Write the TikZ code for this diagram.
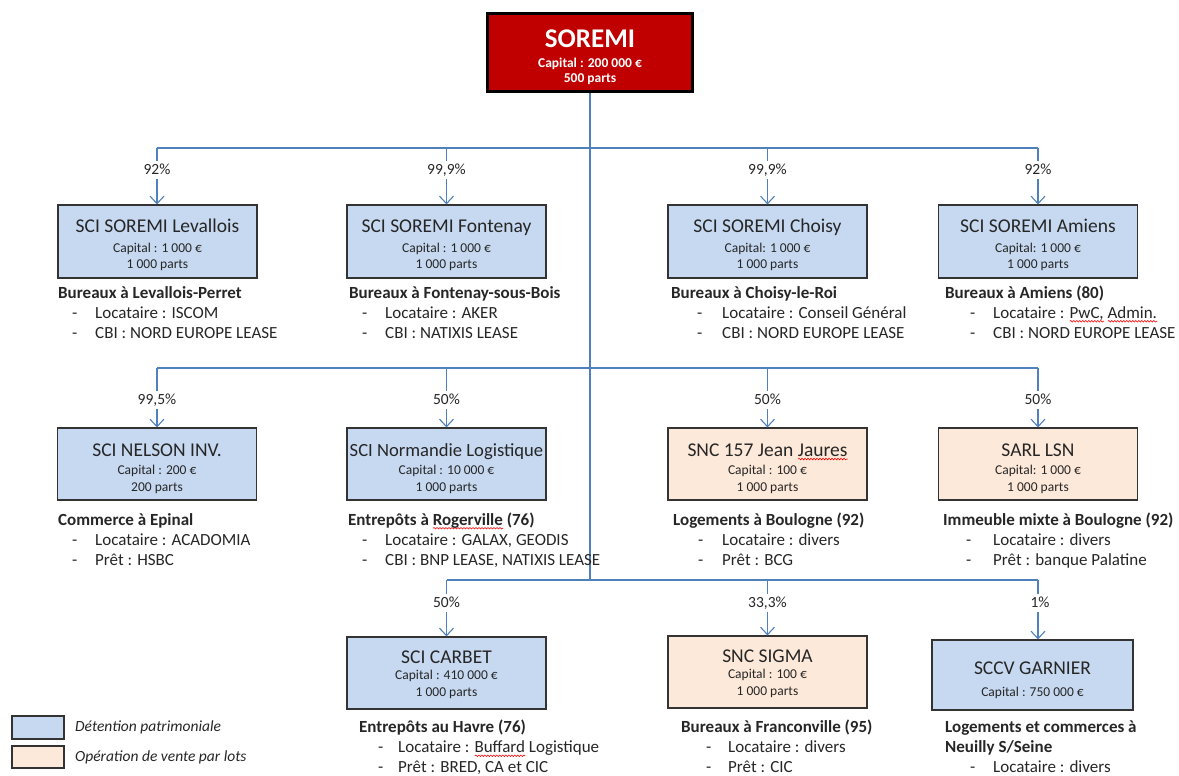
\documentclass[tikz,border=0pt]{standalone}
\usepackage{fontspec}
\setmainfont{Carlito}
\usetikzlibrary{arrows.meta,decorations.pathmorphing}
\definecolor{lnblue}{HTML}{4F81BD}
\definecolor{boxblue}{HTML}{C6D9F1}
\definecolor{boxpeach}{HTML}{FDE9D9}
\definecolor{soremired}{HTML}{C00000}
\definecolor{txt}{HTML}{262626}
\newsavebox\sqbox
\newcommand\sqw[1]{\sbox\sqbox{#1}\rlap{\raisebox{-4pt}{\tikz\draw[red,line width=0.6pt,decorate,decoration={snake,amplitude=0.8pt,segment length=3pt}] (0pt,0pt) -- (\wd\sqbox,0pt);}}\usebox\sqbox}
\newcommand\boxtxt[8]{%
  \node[ttl] (#1-t) at (#2,#3) {#6};
  \node[sml] (#1-c) at (#2,#4) {#7};
  \node[sml] (#1-p) at (#2,#5) {#8};}
\newcommand\infotxt[8]{%
  \node[dsc] (#1-h) at (#2,#5) {#6};
  \node[itm] (#1-d1) at (#3,#5+20) {-};
  \node[itm] (#1-i1) at (#4,#5+20) {#7};
  \node[itm] (#1-d2) at (#3,#5+40) {-};
  \node[itm] (#1-i2) at (#4,#5+40) {#8};}
\begin{document}
\begin{tikzpicture}[x=1pt,y=-1pt,
  ent/.style={draw=black!80,line width=1.1pt,minimum width=199pt,minimum height=73pt,inner sep=0pt},
  det/.style={ent,fill=boxblue},
  vte/.style={ent,fill=boxpeach},
  ttl/.style={font=\fontsize{19.5}{23}\selectfont,text=txt,text height=12.3pt,text depth=0pt,inner sep=0pt},
  sml/.style={font=\fontsize{13.5}{16}\selectfont,text=txt,text height=8.5pt,text depth=0pt,inner sep=0pt},
  dsc/.style={font=\bfseries\fontsize{17}{20}\selectfont,text=txt,text height=10.7pt,text depth=0pt,inner sep=0pt,anchor=west},
  itm/.style={font=\fontsize{17}{20}\selectfont,text=txt,text height=10.7pt,text depth=0pt,inner sep=0pt,anchor=west},
  pct/.style={font=\fontsize{15.5}{18}\selectfont,text=txt,fill=white,inner xsep=2pt,inner ysep=4pt,text height=9.8pt,text depth=0pt},
  leg/.style={font=\itshape\fontsize{15.5}{18}\selectfont,text=txt,text height=9.8pt,text depth=0pt,inner sep=0pt,anchor=west},
  conn/.style={draw=lnblue,line width=1.3pt},
  arr/.style={conn,-{Straight Barb[length=7.5pt,width=14pt,line width=1.1pt]}}
]
\useasboundingbox (0,0) rectangle (1179,776);

% parent
\node[draw=black,line width=3pt,fill=soremired,minimum width=205pt,minimum height=78pt,inner sep=0pt] (sor) at (590,53) {};
\node[font=\bfseries\fontsize{27}{30}\selectfont,text=white,text height=17pt,text depth=0pt,inner sep=0pt] (sor-t) at (590,39) {SOREMI};
\node[font=\bfseries\fontsize{13.5}{16}\selectfont,text=white,text height=8.5pt,text depth=0pt,inner sep=0pt] (sor-c) at (590,63) {Capital : 200 000 €};
\node[font=\bfseries\fontsize{13.5}{16}\selectfont,text=white,text height=8.5pt,text depth=0pt,inner sep=0pt] (sor-p) at (590,78) {500 parts};

% row 1 boxes
\node[det] (lev) at (157.5,241.5) {};
\node[det] (fon) at (446.5,241.5) {};
\node[det] (cho) at (767.5,241.5) {};
\node[det] (ami) at (1038,241.5) {};
% row 2 boxes
\node[det,minimum height=72pt] (nel) at (157,464) {};
\node[det,minimum height=72pt] (nor) at (446.5,464) {};
\node[vte,minimum height=72pt] (jj) at (767.5,464) {};
\node[vte,minimum height=72pt] (lsn) at (1038,464) {};
% row 3 boxes
\node[det,minimum height=72pt] (car) at (446.5,673) {};
\node[vte,minimum height=72pt] (sig) at (767.5,672) {};
\node[det,minimum width=201pt,minimum height=70pt] (gar) at (1032.5,675) {};

% connectors
\coordinate (b1L) at (157,148);
\coordinate (b1a) at (446.5,148);
\coordinate (b1b) at (767.5,148);
\coordinate (b1R) at (1038,148);
\coordinate (b2L) at (157,368);
\coordinate (b2a) at (446.5,368);
\coordinate (b2b) at (767.5,368);
\coordinate (b2R) at (1038,368);
\coordinate (b3L) at (446.5,580);
\coordinate (b3a) at (767.5,580);
\coordinate (b3R) at (1038,580);
\coordinate (tr) at (590,580);
\draw[conn] (sor.south) -- (tr);
\draw[conn] (b1L) -- (b1R);
\draw[conn] (b2L) -- (b2R);
\draw[conn] (b3L) -- (b3R);
\draw[arr] (b1L) -- (b1L |- lev.north);
\draw[arr] (b1a) -- (b1a |- fon.north);
\draw[arr] (b1b) -- (b1b |- cho.north);
\draw[arr] (b1R) -- (b1R |- ami.north);
\draw[arr] (b2L) -- (b2L |- nel.north);
\draw[arr] (b2a) -- (b2a |- nor.north);
\draw[arr] (b2b) -- (b2b |- jj.north);
\draw[arr] (b2R) -- (b2R |- lsn.north);
\draw[arr] (b3L) -- (b3L |- car.north);
\draw[arr] (b3a) -- (b3a |- sig.north);
\draw[arr] (b3R) -- (b3R |- gar.north);

% percentages
\node[pct] (p11) at (157,170) {92\%};
\node[pct] (p12) at (446.5,170) {99,9\%};
\node[pct] (p13) at (767.5,170) {99,9\%};
\node[pct] (p14) at (1038,170) {92\%};
\node[pct] (p21) at (157,400) {99,5\%};
\node[pct] (p22) at (446.5,400) {50\%};
\node[pct] (p23) at (767.5,400) {50\%};
\node[pct] (p24) at (1038,400) {50\%};
\node[pct] (p31) at (446.5,603) {50\%};
\node[pct] (p32) at (767.5,603) {33,3\%};
\node[pct] (p33) at (1040,603) {1\%};

% box texts
\boxtxt{lev}{157.5}{226}{248}{264}{SCI SOREMI Levallois}{Capital : 1 000 €}{1 000 parts}
\boxtxt{fon}{446.5}{226}{248}{264}{SCI SOREMI Fontenay}{Capital : 1 000 €}{1 000 parts}
\boxtxt{cho}{767.5}{226}{248}{264}{SCI SOREMI Choisy}{Capital: 1 000 €}{1 000 parts}
\boxtxt{ami}{1038}{226}{248}{264}{SCI SOREMI Amiens}{Capital: 1 000 €}{1 000 parts}
\boxtxt{nel}{157}{450}{470}{487}{SCI NELSON INV.}{Capital : 200 €}{200 parts}
\boxtxt{nor}{446.5}{450}{470}{487}{\fontsize{18.6}{22}\selectfont SCI Normandie Logistique}{Capital : 10 000 €}{1 000 parts}
\boxtxt{jj}{767.5}{450}{470}{487}{SNC 157 Jean \sqw{Jaures}}{Capital : 100 €}{1 000 parts}
\boxtxt{lsn}{1038}{450}{470}{487}{SARL LSN}{Capital: 1 000 €}{1 000 parts}
\boxtxt{car}{446.5}{657}{675}{692}{SCI CARBET}{Capital : 410 000 €}{1 000 parts}
\boxtxt{sig}{767.5}{656}{674}{691}{SNC SIGMA}{Capital : 100 €}{1 000 parts}
\node[ttl] (gar-t) at (1032.5,668) {SCCV GARNIER};
\node[sml] (gar-c) at (1032.5,692) {Capital : 750 000 €};

% descriptions
\infotxt{lev}{58}{72}{95}{293}{Bureaux à Levallois-Perret}{Locataire : ISCOM}{CBI : NORD EUROPE LEASE}
\infotxt{fon}{349}{362}{385}{293}{Bureaux à Fontenay-sous-Bois}{Locataire : AKER}{CBI : NATIXIS LEASE}
\infotxt{cho}{671}{697}{722}{293}{Bureaux à Choisy-le-Roi}{Locataire : Conseil Général}{CBI : NORD EUROPE LEASE}
\infotxt{ami}{945}{970}{993}{293}{Bureaux à Amiens (80)}{Locataire : \sqw{PwC,} \sqw{Admin.}}{CBI : NORD EUROPE LEASE}
\infotxt{nel}{58}{72}{95}{520}{Commerce à Epinal}{Locataire : ACADOMIA}{Prêt : HSBC}
\infotxt{nor}{348}{362}{385}{520}{Entrepôts à \sqw{Rogerville} (76)}{Locataire : GALAX, GEODIS}{CBI : BNP LEASE, NATIXIS LEASE}
\infotxt{jj}{673}{698}{722}{520}{Logements à Boulogne (92)}{Locataire : divers}{Prêt : BCG}
\infotxt{lsn}{943}{966}{993}{520}{Immeuble mixte à Boulogne (92)}{Locataire : divers}{Prêt : banque Palatine}
\infotxt{car}{359}{378}{398}{727.5}{Entrepôts au Havre (76)}{Locataire : \sqw{Buffard} Logistique}{Prêt : BRED, CA et CIC}
\infotxt{sig}{681}{706}{728}{727.5}{Bureaux à Franconville (95)}{Locataire : divers}{Prêt : CIC}
\node[dsc] (gar-h1) at (945,727.5) {Logements et commerces à};
\node[dsc] (gar-h2) at (945,747.5) {Neuilly S/Seine};
\node[itm] (gar-d1) at (970,767.5) {-};
\node[itm] (gar-i1) at (993,767.5) {Locataire : divers};

% legend
\node[draw=black!80,line width=1.1pt,fill=boxblue,minimum width=52pt,minimum height=23pt,inner sep=0pt] (lg1) at (38,727.5) {};
\node[draw=black!80,line width=1.1pt,fill=boxpeach,minimum width=52pt,minimum height=22pt,inner sep=0pt] (lg2) at (38,757) {};
\node[leg] (lg1-t) at (75,727) {Détention patrimoniale};
\node[leg] (lg2-t) at (75,757) {Opération de vente par lots};
\end{tikzpicture}
\end{document}
